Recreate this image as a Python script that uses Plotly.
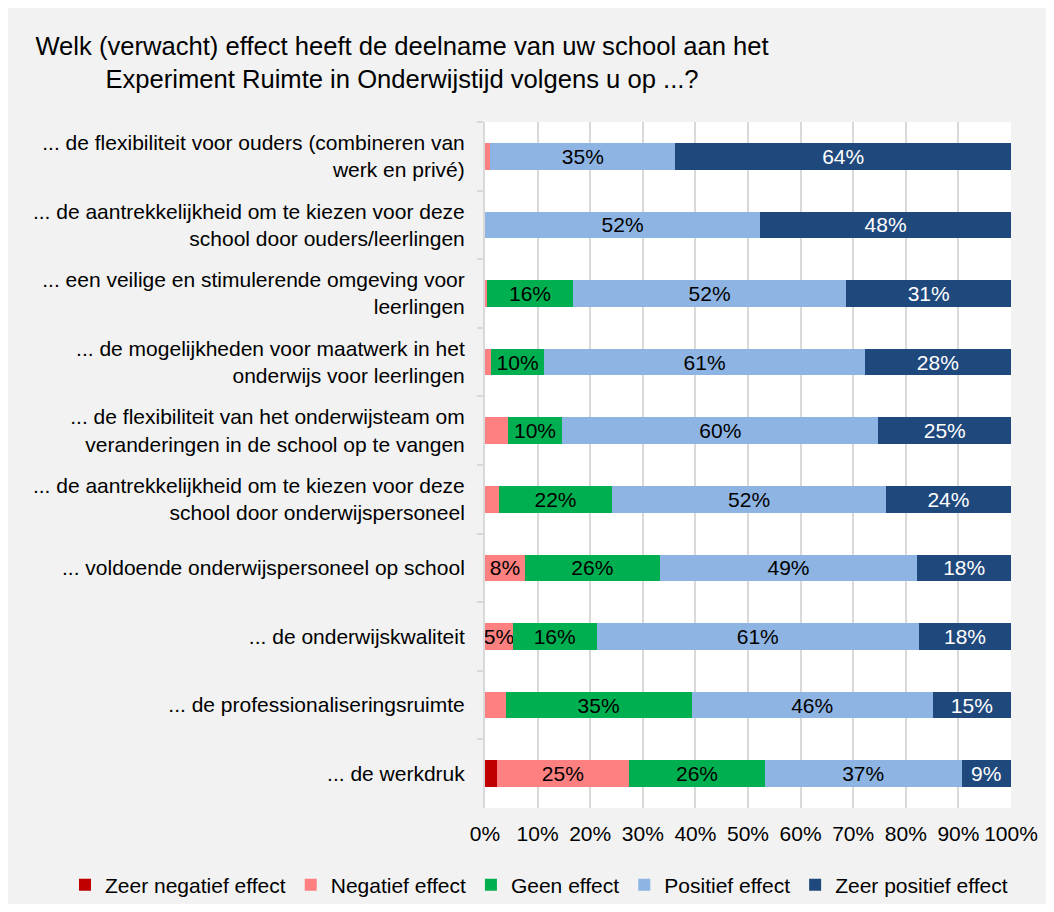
import plotly.graph_objects as go

# Categories, top to bottom
categories = [
    "... de flexibiliteit voor ouders (combineren van<br>werk en privé)",
    "... de aantrekkelijkheid om te kiezen voor deze<br>school door ouders/leerlingen",
    "... een veilige en stimulerende omgeving voor<br>leerlingen",
    "... de mogelijkheden voor maatwerk in het<br>onderwijs voor leerlingen",
    "... de flexibiliteit van het onderwijsteam om<br>veranderingen in de school op te vangen",
    "... de aantrekkelijkheid om te kiezen voor deze<br>school door onderwijspersoneel",
    "... voldoende onderwijspersoneel op school",
    "... de onderwijskwaliteit",
    "... de professionaliseringsruimte",
    "... de werkdruk",
]

zeer_negatief = [0, 0, 0, 0, 0, 0, 0, 0, 0, 2.2]
negatief = [1.0, 0, 0.4, 1.1, 4.3, 2.6, 7.6, 5.3, 3.9, 25.2]
geen = [0, 0, 16.3, 10.2, 10.4, 21.6, 25.6, 15.9, 35.4, 25.8]
positief = [35.2, 52.3, 52.0, 60.9, 60.1, 52.0, 49.0, 61.3, 45.8, 37.4]
zeer_positief = [63.8, 47.7, 31.3, 27.8, 25.2, 23.8, 17.8, 17.5, 14.9, 9.4]

x_ticks = [0, 10, 20, 30, 40, 50, 60, 70, 80, 90, 100]
x_tick_labels = ["0%", "10%", "20%", "30%", "40%", "50%", "60%", "70%", "80%", "90%", "100%"]

SERIES = [
    ("Zeer negatief effect", zeer_negatief, "#C00000", "black"),
    ("Negatief effect", negatief, "#FF8080", "black"),
    ("Geen effect", geen, "#00B050", "black"),
    ("Positief effect", positief, "#8EB4E3", "black"),
    ("Zeer positief effect", zeer_positief, "#1F497D", "white"),
]

FONT = "Liberation Sans, Arial, sans-serif"

# figure sits inside the page body (8px white margin = the white frame)
W, H = 1038, 896
# plot area in figure pixels
L, R, T, B = 477, 1003, 114, 800


def px_x(p):
    return (p - L) / (R - L)


def px_y(p):
    return (B - p) / (B - T)


fig = go.Figure()
for name, vals, colour, txt_colour in SERIES:
    labels = [f"{v:.0f}%" if v >= 4.5 else "" for v in vals]
    fig.add_trace(go.Bar(
        y=categories, x=vals, name=name, orientation="h",
        marker=dict(color=colour, line=dict(width=0)),
        text=labels, textposition="inside", insidetextanchor="middle",
        constraintext="none",
        textfont=dict(color=txt_colour, size=21, family=FONT),
        hoverinfo="skip",
    ))

fig.update_layout(
    barmode="stack",
    bargap=0.61,
    width=W, height=H,
    margin=dict(l=L, r=W - R, t=T, b=H - B, autoexpand=False),
    paper_bgcolor="#F2F2F2",
    plot_bgcolor="white",
    font=dict(family=FONT, size=21, color="black"),
    title=dict(
        text="Welk (verwacht) effect heeft de deelname van uw school aan het<br>"
             "Experiment Ruimte in Onderwijstijd volgens u op ...?",
        x=394 / W, xanchor="center", xref="container",
        y=1 - 47 / H, yanchor="top", yref="container",
        font=dict(size=25.6, family=FONT, color="black"),
    ),
    legend=dict(
        orientation="h", x=px_x(57), xanchor="left",
        y=px_y(877), yanchor="middle",
        font=dict(size=21, family=FONT),
        bgcolor="rgba(0,0,0,0)",
        traceorder="normal", itemwidth=30,
    ),
    showlegend=True,
)

fig.update_xaxes(
    range=[0, 100], tickvals=x_ticks, ticktext=x_tick_labels,
    showgrid=True, gridcolor="#D9D9D9", gridwidth=2,
    zeroline=False, showline=False, ticks="",
    ticklabelstandoff=11,
    tickfont=dict(size=21, family=FONT),
    fixedrange=True,
)
fig.update_yaxes(
    autorange="reversed", showgrid=False,
    showline=True, linecolor="#D9D9D9", linewidth=2,
    ticks="outside", tickson="boundaries", ticklen=6, tickcolor="#D9D9D9", tickwidth=2,
    ticklabelstandoff=14,
    tickfont=dict(size=21, family=FONT),
    fixedrange=True,
)

fig.write_html("out.html")
